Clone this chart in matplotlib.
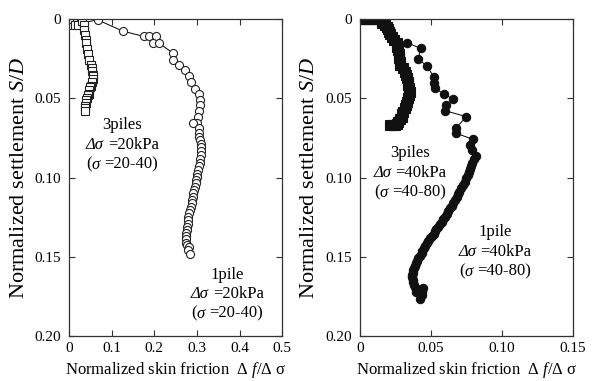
import matplotlib
matplotlib.use("Agg")
import matplotlib.pyplot as plt

plt.rcParams['font.family'] = ['Liberation Serif', 'DejaVu Serif']
plt.rcParams['mathtext.fontset'] = 'custom'
plt.rcParams['mathtext.rm'] = 'Liberation Serif'
plt.rcParams['mathtext.it'] = 'Liberation Serif:italic'

# =========================
# DATOS
# =========================
# panel izquierdo: 1 pilote, delta sigma = 20 kPa
pile1_20_x = [0.003, 0.067, 0.126, 0.176, 0.188, 0.203, 0.198, 0.210, 0.245, 0.245,
              0.258, 0.271, 0.282, 0.286, 0.296, 0.305, 0.308, 0.308, 0.305, 0.303,
              0.300, 0.292, 0.305, 0.305, 0.306, 0.307, 0.309, 0.310, 0.309, 0.309,
              0.308, 0.307, 0.305, 0.303, 0.301, 0.300, 0.298, 0.297, 0.295, 0.293,
              0.292, 0.290, 0.289, 0.288, 0.286, 0.284, 0.282, 0.280, 0.279, 0.278,
              0.277, 0.276, 0.275, 0.275, 0.274, 0.275, 0.276, 0.282, 0.280, 0.284]
pile1_20_y = [0.004, 0.0005, 0.0076, 0.011, 0.011, 0.011, 0.015, 0.015, 0.0217, 0.026,
              0.029, 0.032, 0.036, 0.040, 0.044, 0.047, 0.051, 0.054, 0.058, 0.0616,
              0.0654, 0.0654, 0.069, 0.072, 0.0745, 0.0765, 0.079, 0.081, 0.0835, 0.086,
              0.0885, 0.091, 0.093, 0.0953, 0.0975, 0.0995, 0.1015, 0.1037, 0.106, 0.108,
              0.110, 0.112, 0.114, 0.1163, 0.1185, 0.1205, 0.1225, 0.1247, 0.1268, 0.129,
              0.131, 0.133, 0.135, 0.137, 0.139, 0.141, 0.1425, 0.1437, 0.1455, 0.148]

# panel izquierdo: 3 pilotes, delta sigma = 20 kPa
piles3_20_x = [0.002, 0.010, 0.019, 0.027, 0.014, 0.022, 0.031, 0.034, 0.036, 0.037,
               0.039, 0.040, 0.043, 0.045, 0.048, 0.051, 0.053, 0.055, 0.056, 0.057,
               0.056, 0.054, 0.052, 0.050, 0.048, 0.046, 0.044, 0.042, 0.040, 0.039,
               0.038, 0.038, 0.038]
piles3_20_y = [0.000, 0.000, 0.000, 0.000, 0.004, 0.004, 0.001, 0.004, 0.007, 0.010,
               0.013, 0.015, 0.019, 0.022, 0.026, 0.029, 0.031, 0.033, 0.035, 0.036,
               0.038, 0.040, 0.042, 0.043, 0.045, 0.047, 0.048, 0.050, 0.051, 0.053,
               0.055, 0.056, 0.058]

# panel derecho: 1 pilote, delta sigma = 40 kPa
pile1_40_x = [0.0333, 0.0427, 0.0410, 0.0470, 0.0520, 0.0520, 0.0525, 0.0594, 0.0657, 0.0603,
              0.0599, 0.0750, 0.0676, 0.0676, 0.0798, 0.0775, 0.0787, 0.0817, 0.0800, 0.0787,
              0.0780, 0.0775, 0.0770, 0.0763, 0.0750, 0.0739, 0.0723, 0.0710, 0.0700, 0.0690,
              0.0680, 0.0669, 0.0657, 0.0646, 0.0634, 0.0622, 0.0610, 0.0599, 0.0587, 0.0575,
              0.0563, 0.0550, 0.0538, 0.0528, 0.0518, 0.0505, 0.0493, 0.0482, 0.0470, 0.0460,
              0.0450, 0.0440, 0.0434, 0.0422, 0.0410, 0.0400, 0.0393, 0.0387, 0.0380, 0.0376,
              0.0370, 0.0366, 0.0368, 0.0371, 0.0376, 0.0380, 0.0387, 0.0394, 0.0446, 0.0440,
              0.0434, 0.0423]
pile1_40_y = [0.0150, 0.0185, 0.0254, 0.0294, 0.0364, 0.0402, 0.0437, 0.0473, 0.0507, 0.0543,
              0.0578, 0.0616, 0.0686, 0.0721, 0.0759, 0.0795, 0.0826, 0.0864, 0.0885, 0.0910,
              0.0930, 0.0948, 0.0965, 0.0984, 0.1005, 0.1026, 0.1047, 0.1068, 0.1090, 0.1105,
              0.1121, 0.1140, 0.1160, 0.1180, 0.1195, 0.1210, 0.1228, 0.1247, 0.1263, 0.1279,
              0.1295, 0.1310, 0.1325, 0.1340, 0.1355, 0.1370, 0.1384, 0.1400, 0.1415, 0.1430,
              0.1447, 0.1463, 0.1478, 0.1495, 0.1510, 0.1525, 0.1540, 0.1555, 0.1570, 0.1585,
              0.1600, 0.1615, 0.1630, 0.1645, 0.1660, 0.1675, 0.1690, 0.1720, 0.1700, 0.1720,
              0.1741, 0.1768]

# panel derecho: 3 pilotes, delta sigma = 40 kPa
piles3_40_x = [0.000, 0.002, 0.004, 0.006, 0.008, 0.010, 0.012, 0.014, 0.016, 0.0153,
               0.0175, 0.0192, 0.0200, 0.0207, 0.0215, 0.0223, 0.0240, 0.0258, 0.0262, 0.0270,
               0.0273, 0.0277, 0.0280, 0.0282, 0.0300, 0.0317, 0.0323, 0.0329, 0.0335, 0.0340,
               0.0346, 0.0352, 0.0346, 0.0340, 0.0332, 0.0324, 0.0315, 0.0305, 0.0299, 0.0293,
               0.0282, 0.0270, 0.0258, 0.0246, 0.0230, 0.0211]
piles3_40_y = [0.000, 0.000, 0.000, 0.000, 0.000, 0.000, 0.000, 0.000, 0.000, 0.0023,
               0.0035, 0.0048, 0.0065, 0.0080, 0.0095, 0.0112, 0.0130, 0.0153, 0.0175, 0.0196,
               0.0220, 0.0248, 0.0270, 0.0290, 0.0310, 0.0332, 0.0353, 0.0374, 0.0395, 0.0416,
               0.0437, 0.0458, 0.0480, 0.0500, 0.0522, 0.0543, 0.0564, 0.0585, 0.0600, 0.0616,
               0.0632, 0.0648, 0.0660, 0.0669, 0.0669, 0.0669]

x_ticks_izq = [0, 0.1, 0.2, 0.3, 0.4, 0.5]
x_labels_izq = ["0", "0.1", "0.2", "0.3", "0.4", "0.5"]
x_ticks_der = [0, 0.05, 0.10, 0.15]
x_labels_der = ["0", "0.05", "0.10", "0.15"]
y_ticks = [0, 0.05, 0.10, 0.15, 0.20]
y_labels = ["0", "0.05", "0.10", "0.15", "0.20"]

titulo_3p = "3piles"
titulo_1p = "1pile"
carga_20 = "=20kPa"
carga_40 = "=40kPa"
rango_20 = "=20-40)"
rango_40 = "=40-80)"

xlabel = "Normalized skin friction  $\\mathit{Δ\\ f/Δ}$ σ"
ylabel = "Normalized settlement $\\mathit{S/D}$"

gris = "#333333"


# =========================
# FORMATO DE EJES
# =========================
def formato_eje(ax, xmax, xt, xl):
    ax.set_xlim(0, xmax)
    ax.set_ylim(0.20, 0)
    ax.set_xticks(xt)
    ax.set_xticklabels(xl, fontsize=11)
    ax.set_yticks(y_ticks)
    ax.set_yticklabels(y_labels, fontsize=11)
    ax.tick_params(direction="in", length=4, width=0.8, color=gris,
                   top=True, right=True)
    ax.tick_params(axis="x", pad=4)
    ax.tick_params(axis="y", pad=6)
    for s in ax.spines.values():
        s.set_color(gris)
        s.set_linewidth(0.9)
    ax.set_xlabel(xlabel, fontsize=12, labelpad=4)
    ax.set_ylabel(ylabel, fontsize=16, labelpad=4)


# =========================
# ETIQUETA DE CASO (3 lineas, griegas en cursiva)
# =========================
def etiqueta(ax, x, y, titulo, carga, rango):
    fig = ax.figure
    fig.canvas.draw()
    r = fig.canvas.get_renderer()
    kw = dict(transform=ax.transAxes, fontsize=12, va="center")
    dy = 0.062

    ax.text(x, y + dy, titulo, ha="center", **kw)

    # linea 2: "Δσ =20kPa"
    a = ax.text(0, 0, "Δσ ", style="italic", **kw)
    b = ax.text(0, 0, carga, **kw)
    wa = a.get_window_extent(r).width
    wb = b.get_window_extent(r).width
    w_ax = ax.get_window_extent(r).width
    x0 = x - (wa + wb) / 2 / w_ax
    a.set_position((x0, y))
    b.set_position((x0 + wa / w_ax, y))

    # linea 3: "(σ =20-40)"
    c = ax.text(0, 0, "(", **kw)
    d = ax.text(0, 0, "σ ", style="italic", **kw)
    e = ax.text(0, 0, rango, **kw)
    wc = c.get_window_extent(r).width
    wd = d.get_window_extent(r).width
    we = e.get_window_extent(r).width
    x0 = x - (wc + wd + we) / 2 / w_ax
    c.set_position((x0, y - dy))
    d.set_position((x0 + wc / w_ax, y - dy))
    e.set_position((x0 + (wc + wd) / w_ax, y - dy))


fig = plt.figure(figsize=(5.92, 3.81), dpi=100)
ax1 = fig.add_axes([0.1166, 0.118, 0.36, 0.832])
ax2 = fig.add_axes([0.608, 0.118, 0.36, 0.832])

# panel izquierdo
ax1.plot(pile1_20_x, pile1_20_y, color="black", lw=0.7,
         marker="o", ms=5.8, mfc="white", mec="#222222", mew=0.8)
ax1.plot(piles3_20_x, piles3_20_y, color="black", lw=0.7,
         marker="s", ms=5.5, mfc="white", mec="#222222", mew=0.8)
formato_eje(ax1, 0.5, x_ticks_izq, x_labels_izq)
etiqueta(ax1, 0.249, 0.603, titulo_3p, carga_20, rango_20)
etiqueta(ax1, 0.742, 0.132, titulo_1p, carga_20, rango_20)

# panel derecho
ax2.plot(pile1_40_x, pile1_40_y, color="black", lw=0.7,
         marker="o", ms=6, mfc="#111111", mec="#111111", mew=0.8)
ax2.plot(piles3_40_x, piles3_40_y, color="black", lw=0.7,
         marker="s", ms=6.5, mfc="#111111", mec="#111111", mew=0.8)
formato_eje(ax2, 0.15, x_ticks_der, x_labels_der)
etiqueta(ax2, 0.235, 0.514, titulo_3p, carga_40, rango_40)
etiqueta(ax2, 0.634, 0.265, titulo_1p, carga_40, rango_40)

plt.savefig("out.png", dpi=100)
plt.close()
